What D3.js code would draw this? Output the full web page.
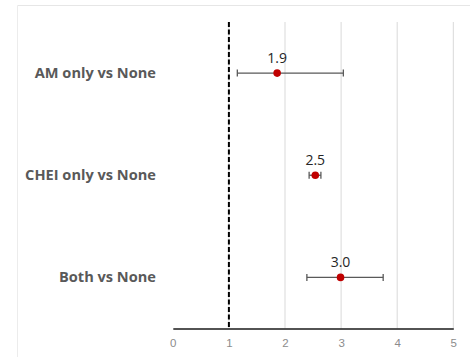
<!DOCTYPE html>
<html>
<head>
<meta charset="utf-8">
<script src="https://cdn.jsdelivr.net/npm/d3@7"></script>
<style>
  html, body { margin: 0; padding: 0; background: #fff; }
  svg { display: block; }
</style>
</head>
<body>
<svg id="chart" width="470" height="357"></svg>
<script>
const categories = ["AM only vs None", "CHEI only vs None", "Both vs None"];
const estimates = [1.86, 2.54, 2.99];
const lowerCI = [1.15, 2.43, 2.39];
const upperCI = [3.04, 2.64, 3.75];
const valueLabels = ["1.9", "2.5", "3.0"];
const xTicks = [0, 1, 2, 3, 4, 5];
const referenceValue = [1];

(function () {
const svg = d3.select("#chart");
const W = 470, H = 357;
const pLeft = 172.8, pRight = 453.3, pTop = 22, pBottom = 328.5;

// chart area border (top & left visible)
svg.append("line").attr("x1", 17.5).attr("x2", W).attr("y1", 5.5).attr("y2", 5.5)
  .attr("stroke", "#e6e6e6").attr("stroke-width", 1);
svg.append("line").attr("x1", 17.5).attr("x2", 17.5).attr("y1", 5.5).attr("y2", H)
  .attr("stroke", "#ececec").attr("stroke-width", 1);

const x = d3.scaleLinear().domain([0, 5]).range([pLeft, pRight]);
const y = d3.scaleBand().domain(categories).range([pTop, pBottom]);

// gridlines
svg.append("g").selectAll("line").data(xTicks.filter(d => d > 0)).join("line")
  .attr("x1", d => x(d)).attr("x2", d => x(d))
  .attr("y1", pTop).attr("y2", pBottom)
  .attr("stroke", "#d9d9d9").attr("stroke-width", 1);

// x axis
const xAxis = d3.axisBottom(x).tickValues(xTicks).tickFormat(d3.format("d")).tickSize(0).tickPadding(10);
const gx = svg.append("g").attr("transform", `translate(0,${pBottom})`).call(xAxis);
gx.select(".domain").attr("stroke", "#1a1a1a").attr("stroke-width", 1.6);
gx.selectAll("text").attr("fill", "#8c8c8c").attr("font-size", "11.5px")
  .attr("font-family", "'Liberation Sans', Arial, sans-serif");

// reference dashed line
svg.append("g").selectAll("line").data(referenceValue).join("line")
  .attr("x1", d => x(d)).attr("x2", d => x(d))
  .attr("y1", pTop).attr("y2", pBottom)
  .attr("stroke", "#000").attr("stroke-width", 2)
  .attr("stroke-dasharray", "5,2.5");

// category labels
const yAxis = d3.axisLeft(y).tickSize(0).tickPadding(0);
const gy = svg.append("g").attr("transform", `translate(156,0)`).call(yAxis);
gy.select(".domain").remove();
gy.selectAll("text").attr("fill", "#595959").attr("font-size", "14.6px").attr("font-weight", "bold")
  .attr("font-family", "'Open Sans', 'Liberation Sans', sans-serif").attr("dy", "0.32em");

const data = categories.map((c, i) => ({c, est: estimates[i], lo: lowerCI[i], hi: upperCI[i], lab: valueLabels[i]}));
const cy = d => y(d.c) + y.bandwidth() / 2;

const g = svg.append("g");
g.selectAll(".ci").data(data).join("line")
  .attr("x1", d => x(d.lo)).attr("x2", d => x(d.hi))
  .attr("y1", cy).attr("y2", cy)
  .attr("stroke", "#595959").attr("stroke-width", 1.3);
g.selectAll(".capl").data(data).join("line")
  .attr("x1", d => x(d.lo)).attr("x2", d => x(d.lo))
  .attr("y1", d => cy(d) - 3.5).attr("y2", d => cy(d) + 3.5)
  .attr("stroke", "#595959").attr("stroke-width", 1.3);
g.selectAll(".capr").data(data).join("line")
  .attr("x1", d => x(d.hi)).attr("x2", d => x(d.hi))
  .attr("y1", d => cy(d) - 3.5).attr("y2", d => cy(d) + 3.5)
  .attr("stroke", "#595959").attr("stroke-width", 1.3);
g.selectAll("circle").data(data).join("circle")
  .attr("cx", d => x(d.est)).attr("cy", cy).attr("r", 3.8)
  .attr("fill", "#c00000");
g.selectAll(".vl").data(data).join("text")
  .attr("x", d => x(d.est)).attr("y", d => cy(d) - 10.5)
  .attr("text-anchor", "middle")
  .attr("fill", "#262626").attr("font-size", "14px")
  .attr("font-family", "'Open Sans', 'Liberation Sans', sans-serif")
  .text(d => d.lab);
})();
</script>
</body>
</html>
